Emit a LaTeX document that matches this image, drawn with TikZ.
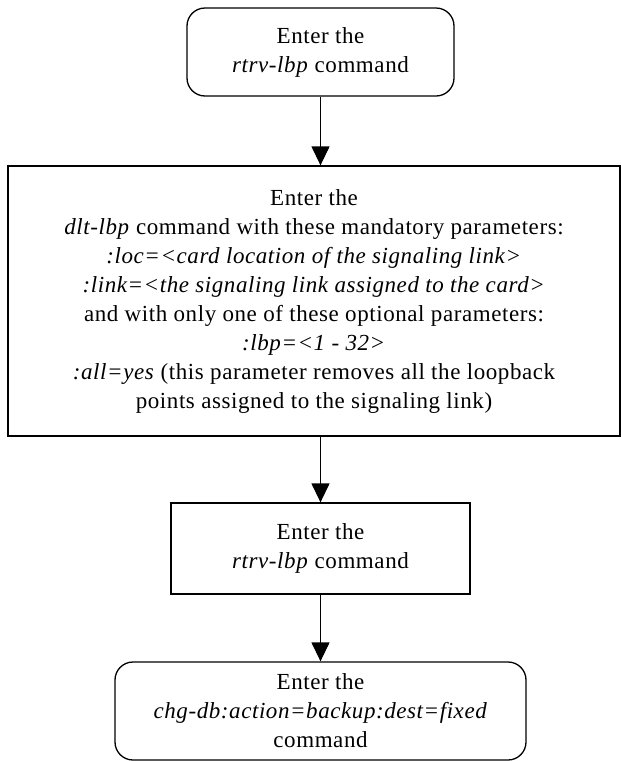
\documentclass[tikz,border=0pt]{standalone}
\usepackage{fontspec}
\setmainfont{Liberation Serif}[LetterSpace=2.5]
\usetikzlibrary{arrows.meta}

\begin{document}
\begin{tikzpicture}[x=1pt,y=-1pt,
  term/.style={draw,line width=1.3pt,rounded corners=18pt,inner sep=0pt,align=center,
    font=\fontsize{23}{29}\selectfont},
  proc/.style={draw,line width=1.3pt,inner sep=0pt,align=center,
    font=\fontsize{23}{29}\selectfont},
  flow/.style={line width=1.3pt,-{Triangle[length=19pt,width=18pt]}}
]
  \useasboundingbox (0,0) rectangle (621,761);
  \node[term,minimum width=267pt,minimum height=88pt] (retrv) at (320.5,52)
    {Enter the\\\textit{rtrv-lbp} command};
  \node[proc,minimum width=612pt,minimum height=270pt] (dlt) at (314,301)
    {Enter the\\
     \textit{dlt-lbp} command with these mandatory parameters:\\
     \textit{:loc=<card location of the signaling link>}\\
     \textit{:link=<the signaling link assigned to the card>}\\
     and with only one of these optional parameters:\\
     \textit{:lbp=<1 - 32>}\\
     \textit{:all=yes} (this parameter removes all the loopback\\
     points assigned to the signaling link)};
  \node[proc,minimum width=299pt,minimum height=91pt] (check) at (320.5,548.5)
    {Enter the\\\textit{rtrv-lbp} command};
  \node[term,minimum width=411pt,minimum height=98pt] (backup) at (320.5,711)
    {Enter the\\\textit{chg-db:action=backup:dest=fixed}\\command};
  \draw[flow] (retrv.south) -- (retrv.south |- dlt.north);
  \draw[flow] (dlt.south -| check.north) -- (check.north);
  \draw[flow] (check.south) -- (backup.north);
\end{tikzpicture}
\end{document}
